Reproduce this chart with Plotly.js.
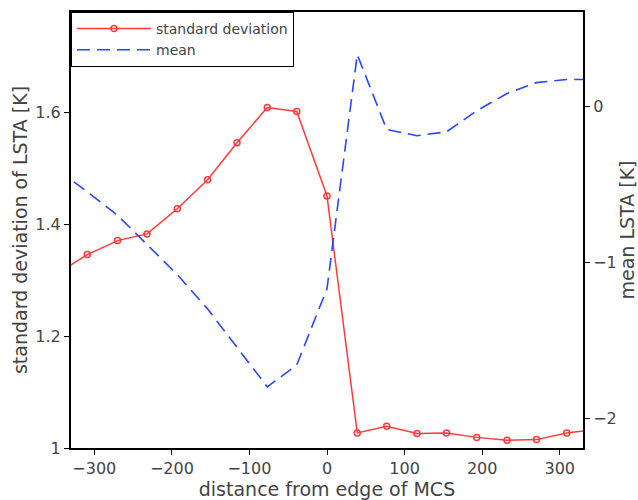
<!DOCTYPE html>
<html>
<head>
<meta charset="utf-8">
<script src="https://cdn.plot.ly/plotly-3.0.1.min.js"></script>
<style>html,body{margin:0;padding:0;background:#fff;}#chart{width:638px;height:500px;}</style>
</head>
<body>
<div id="chart"></div>
<script>
// distance from edge of MCS (km)
var distance = [-347, -309, -270, -232, -193, -154, -116, -77, -39, 0, 39, 77, 116, 154, 193, 232, 270, 309, 347];
// standard deviation of LSTA [K]
var stdDev = [1.313, 1.346, 1.371, 1.383, 1.428, 1.480, 1.546, 1.609, 1.602, 1.451, 1.027, 1.039, 1.026, 1.027, 1.019, 1.014, 1.015, 1.027, 1.033];
// mean LSTA [K]
var meanLSTA = [-0.41, -0.55, -0.70, -0.89, -1.08, -1.30, -1.55, -1.80, -1.66, -1.17, 0.33, -0.15, -0.19, -0.165, -0.03, 0.08, 0.15, 0.17, 0.17];

var xTicks = [-300, -200, -100, 0, 100, 200, 300];
var yTicks = [1, 1.2, 1.4, 1.6];
var yTickLabels = ["1", "1.2", "1.4", "1.6"];
var y2Ticks = [-2, -1, 0];

var fontFamily = "DejaVu Sans, sans-serif";
var textColor = "#444";

var traces = [
  {
    x: distance, y: stdDev, name: "standard deviation",
    type: "scatter", mode: "lines+markers",
    line: {color: "#ff3b3b", width: 1.5},
    marker: {symbol: "circle-open", size: 6, color: "#ff3b3b", line: {width: 1.5, color: "#ff3b3b"}},
    yaxis: "y"
  },
  {
    x: distance, y: meanLSTA, name: "mean",
    type: "scatter", mode: "lines",
    line: {color: "#2a46ff", width: 1.6, dash: "13px,7px"},
    yaxis: "y2"
  }
];

var layout = {
  width: 638, height: 500,
  margin: {l: 71, r: 55, t: 12, b: 52},
  paper_bgcolor: "#fff", plot_bgcolor: "#fff",
  font: {family: fontFamily, size: 14, color: textColor},
  showlegend: true,
  legend: {
    x: 0, y: 1, xanchor: "left", yanchor: "top",
    bgcolor: "#fff", bordercolor: "#000", borderwidth: 1,
    font: {family: fontFamily, size: 14, color: textColor},
    itemwidth: 74, tracegroupgap: 0
  },
  xaxis: {
    range: [-330, 330], tickvals: xTicks,
    showgrid: false, zeroline: false,
    showline: true, linecolor: "#000", linewidth: 2, mirror: true,
    ticks: "outside", ticklen: 5, tickcolor: "#000",
    tickfont: {size: 16, color: textColor},
    title: {text: "distance from edge of MCS", font: {size: 19, color: textColor}, standoff: 4}
  },
  yaxis: {
    range: [1, 1.78], tickvals: yTicks, ticktext: yTickLabels,
    showgrid: false, zeroline: false,
    showline: true, linecolor: "#000", linewidth: 2,
    ticks: "outside", ticklen: 5, tickcolor: "#000",
    tickfont: {size: 16, color: textColor},
    title: {text: "standard deviation of LSTA [K]", font: {size: 19, color: textColor}, standoff: 3}
  },
  yaxis2: {
    overlaying: "y", side: "right",
    range: [-2.192, 0.603], tickvals: y2Ticks,
    showgrid: false, zeroline: false,
    showline: true, linecolor: "#000", linewidth: 2,
    ticks: "outside", ticklen: 5, tickcolor: "#000",
    tickfont: {size: 16, color: textColor},
    title: {text: "mean LSTA [K]", font: {size: 19, color: textColor}, standoff: 10}
  }
};

Plotly.newPlot("chart", traces, layout, {displayModeBar: false, staticPlot: true});
</script>
</body>
</html>
